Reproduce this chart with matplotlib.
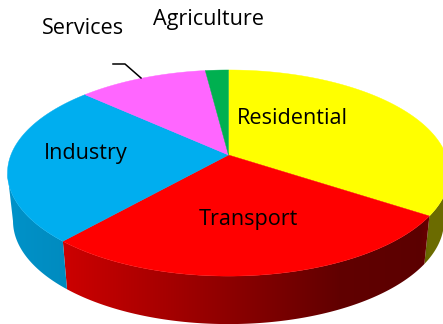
import numpy as np
import matplotlib
matplotlib.use("Agg")
from matplotlib import pyplot as plt
from matplotlib.patches import Polygon

categories = ["Residential", "Transport", "Industry", "Services", "Agriculture"]
shares = [34.3, 27.2, 25.3, 11.2, 2.0]
colors = ["#FFFF00", "#FF0000", "#00AEEF", "#FF66FF", "#00B050"]

plt.rcParams['font.family'] = ['Open Sans', 'DejaVu Sans']

# perspective of the tilted disc, in pixels of the picture
cx, cy = 228.5, 155
R, H, k = 217.6, 99.9, 0.175
depth = 48
shrink = 0.975


def project(t):
    s = 1 / (1 + k * np.sin(t))
    return cx + R * np.cos(t) * s, cy - H * np.sin(t) * s


fig = plt.figure(figsize=(4.43, 3.24), dpi=100)
ax = fig.add_axes([0, 0, 1, 1])

# wedges run clockwise from twelve o'clock
edges = np.radians(90 - 3.6 * np.cumsum([0] + shares))

# side of the disc gets darker to the right
xs = np.arange(0, 444)
light = np.interp(xs, [8, 65, 200, 340, 420, 430, 443], [0.84, 0.80, 0.60, 0.38, 0.36, 0.42, 0.42])

for i, color in enumerate(colors):
    t = np.linspace(edges[i], edges[i + 1], 200)
    # only the part below the widest point of the disc shows its side
    t = t[np.sin(t) <= -k]
    if len(t) < 2:
        continue
    x, y = project(t)
    xb = cx + (x - cx) * shrink
    yb = y + depth
    rgb = np.array(matplotlib.colors.to_rgb(color))
    grad = light[None, :, None] * rgb[None, None, :]
    im = ax.imshow(grad, extent=(0, 443, 324, 0), aspect="auto", zorder=1, interpolation="bilinear")
    im.set_clip_path(Polygon(np.c_[np.r_[x, xb[::-1]], np.r_[y, yb[::-1]]], transform=ax.transData))

for i, color in enumerate(colors):
    t = np.linspace(edges[i], edges[i + 1], 200)
    x, y = project(t)
    ax.fill(np.r_[cx, x], np.r_[cy, y], color=color, lw=0.3, zorder=2)

ax.plot([113, 125, 141], [64, 64, 78], color="black", lw=1.1, zorder=3)

fs = 15.6
ax.text(292, 118, categories[0], ha="center", va="center", fontsize=fs, zorder=4)
ax.text(248, 220, categories[1], ha="center", va="center", fontsize=fs, zorder=4)
ax.text(86, 154, categories[2], ha="center", va="center", fontsize=fs, zorder=4)
ax.text(83, 28, categories[3], ha="center", va="center", fontsize=fs, zorder=4)
ax.text(209, 20, categories[4], ha="center", va="center", fontsize=fs, zorder=4)

ax.set_xlim(0, 443)
ax.set_ylim(324, 0)
ax.axis("off")

fig.savefig("out.png", dpi=100)
